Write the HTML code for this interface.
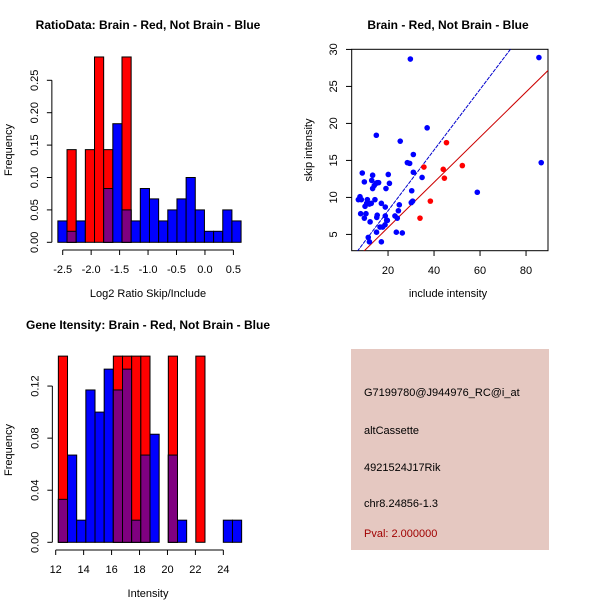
<!DOCTYPE html>
<html><head><meta charset="utf-8"><style>
body{margin:0;background:#fff}
svg{display:block;font-family:"Liberation Sans",sans-serif}
</style></head><body>
<svg id="s" width="600" height="600" viewBox="0 0 600 600">
<rect width="600" height="600" fill="#fff"/>
<text x="148" y="29" font-size="12" font-weight="bold" text-anchor="middle">RatioData: Brain - Red, Not Brain - Blue</text>
<text x="448" y="29" font-size="12" font-weight="bold" text-anchor="middle">Brain - Red, Not Brain - Blue</text>
<text x="148" y="329" font-size="12" font-weight="bold" text-anchor="middle">Gene Itensity: Brain - Red, Not Brain - Blue</text>
<text x="148" y="297" font-size="11" text-anchor="middle">Log2 Ratio Skip/Include</text>
<text x="148" y="597" font-size="11" text-anchor="middle">Intensity</text>
<text x="448" y="297" font-size="11" text-anchor="middle">include intensity</text>
<text transform="translate(12,150) rotate(-90)" font-size="11" text-anchor="middle">Frequency</text>
<text transform="translate(12,450) rotate(-90)" font-size="11" text-anchor="middle">Frequency</text>
<text transform="translate(312,150) rotate(-90)" font-size="11" text-anchor="middle">skip intensity</text>
<g>
<rect x="351" y="349" width="198" height="201" fill="#e5c8c1"/>
<text x="364" y="396" font-size="11">G7199780@J944976_RC@i_at</text>
<text x="364" y="434" font-size="11">altCassette</text>
<text x="364" y="471" font-size="11">4921524J17Rik</text>
<text x="364" y="507" font-size="11">chr8.24856-1.3</text>
<text x="364" y="537" font-size="11" fill="#a00000">Pval: 2.000000</text>
</g>
</svg>
<script>
// Ratio histogram data
const ratioStart=-2.585, ratioBin=0.161;
const ratioBlue=[0.033,0.017,0.033,0,0,0.083,0.183,0.05,0.033,0.083,0.067,0.033,0.05,0.067,0.1,0.05,0.017,0.017,0.05,0.033];
const ratioRed=[0,0.143,0,0.143,0.286,0.143,0,0.286,0,0,0,0,0,0,0,0,0,0,0,0];
const ratioXTicks=[-2.5,-2.0,-1.5,-1.0,-0.5,0.0,0.5];
const ratioYTicks=[0,0.05,0.10,0.15,0.20,0.25];
// Intensity histogram data
const intStart=12.19, intBin=0.656;
const intBlue=[0.033,0.067,0.017,0.117,0.1,0.133,0.117,0.133,0.017,0.067,0.083,0,0.067,0.017,0,0,0,0,0.017,0.017];
const intRed=[0.143,0,0,0,0,0,0.143,0.143,0.143,0.143,0,0,0.143,0,0,0.143,0,0,0,0];
const intXTicks=[12,14,16,18,20,22,24];
const intYTicks=[0,0.04,0.08,0.12];
// Scatter data
const blueX=[7.1,7.8,8.4,8.1,8.8,9.7,10,9.7,10.4,10.7,11,11.4,11.9,11.4,11.9,12.7,12.2,12.9,13.3,13.3,14,14.3,14.8,15.3,15.3,15.1,15,14.9,15.9,16.5,17.1,17.1,17.7,18.7,18.8,18.8,19.1,19.4,19.7,20.1,20.6,23,23.6,24,24.5,24.9,25.3,26.2,28.4,29.4,29.7,30.1,30.3,30.7,31,31,34.8,37,58.8,85.6,86.6];
const blueY=[9.7,10.1,9.7,7.8,13.3,12.1,8.8,7.2,7.8,9.2,9.7,9.2,9.1,4.6,4.0,9.2,6.7,12.3,13,11.2,11.6,9.7,11.9,12,7.6,7.3,5.3,18.4,12,6.0,9.2,4.0,6.0,6.3,7.5,8.7,11.2,6.9,6.9,13.1,11.9,7.5,5.3,7.2,8.2,9,17.6,5.2,14.7,14.6,28.7,9.3,10.9,9.5,13.4,15.8,12.7,19.4,10.7,28.9,14.7];
const redX=[33.9,35.6,38.4,44,44.5,45.4,52.3];
const redY=[7.2,14.1,9.5,13.8,12.6,17.4,14.3];
const blueLine=[0,0.41], redLine=[-0.16,0.305];
const scXTicks=[20,40,60,80], scYTicks=[5,10,15,20,25,30];

const S=document.getElementById('s'),NS='http://www.w3.org/2000/svg';
function mk(t,a,p){const e=document.createElementNS(NS,t);for(const k in a)e.setAttribute(k,a[k]);(p||S).appendChild(e);return e;}

function hist(blue,red,start,bin,sx,sy,xT,yT,yLab,name,by){
  const g=mk('g',{});
  
  
  for(let i=0;i<blue.length;i++){
    const x0=sx(start+i*bin),x1=sx(start+(i+1)*bin);
    const layers=[];
    if(blue[i]>0)layers.push([blue[i],'#0000ff','blue']);
    if(red[i]>0)layers.push([red[i],'#ff0000','red']);
    if(blue[i]>0&&red[i]>0)layers.push([Math.min(blue[i],red[i]),'#7f0080','overlap']);
    for(const L of layers){
      const r=mk('rect',{x:x0,y:sy(L[0]),width:x1-x0,height:sy(0)-sy(L[0]),fill:L[1],stroke:'#000','stroke-width':1},g);
      
      
    }
  }
  const ax=mk('g',{stroke:'#000','stroke-width':1,fill:'none'},g);
  
  
  mk('line',{x1:sx(xT[0]),x2:sx(xT[xT.length-1]),y1:by,y2:by},ax);
  xT.forEach(v=>{mk('line',{x1:sx(v),x2:sx(v),y1:by,y2:by+5},ax);
    const t=mk('text',{x:sx(v),y:by+23,'font-size':11,'text-anchor':'middle',stroke:'none',fill:'#000'},g);t.textContent=yLab?v.toFixed(1):v;
    });
  const ax0=sx(start)-6;
  mk('line',{x1:ax0,x2:ax0,y1:sy(yT[0]),y2:sy(yT[yT.length-1])},ax);
  yT.forEach(v=>{mk('line',{x1:ax0,x2:ax0-5,y1:sy(v),y2:sy(v)},ax);
    const t=mk('text',{transform:`translate(${ax0-14},${sy(v)}) rotate(-90)`,'font-size':11,'text-anchor':'middle',stroke:'none',fill:'#000'},g);t.textContent=v.toFixed(2);
    });
}
hist(ratioBlue,ratioRed,ratioStart,ratioBin,v=>62.7+(v+2.5)*56.9,v=>242.3-v*648,ratioXTicks,ratioYTicks,true,'ratio-histogram',250);
hist(intBlue,intRed,intStart,intBin,v=>55.7+(v-12)*13.97,v=>542.3-v*1302,intXTicks,intYTicks,false,'intensity-histogram',550);

// scatter
const X=v=>351.7+(v-4.2)*2.3, Y=v=>250.7-(v-2.8)*7.4;
const sg=mk('g',{});


mk('defs',{}).innerHTML='<clipPath id="cp"><rect x="351.7" y="49.3" width="196.3" height="201.4"/></clipPath>';
mk('rect',{x:351.7,y:49.3,width:196.3,height:201.4,fill:'none',stroke:'#000'},sg);
scXTicks.forEach(v=>{mk('line',{x1:X(v),x2:X(v),y1:250.7,y2:256,stroke:'#000'},sg);});
scYTicks.forEach(v=>{mk('line',{x1:351.7,x2:346,y1:Y(v),y2:Y(v),stroke:'#000'},sg);
  const t=mk('text',{transform:`translate(337,${Y(v)}) rotate(-90)`,'font-size':11,'text-anchor':'middle'},sg);t.textContent=v;
  });
scXTicks.forEach(v=>{const t=mk('text',{x:X(v),y:274,'font-size':11,'text-anchor':'middle'},sg);t.textContent=v;
  });
const lg=mk('g',{'clip-path':'url(#cp)'},sg);
[[blueLine,'#0000cc','4,1'],[redLine,'#cc0000','']].forEach(([l,c,d],i)=>{
  const ln=mk('line',{x1:X(0),y1:Y(l[0]),x2:X(100),y2:Y(l[0]+l[1]*100),stroke:c,'stroke-width':1,'stroke-dasharray':d},lg);
  
  
});
blueX.forEach((v,i)=>{const c=mk('circle',{cx:X(v),cy:Y(blueY[i]),r:2.8,fill:'#0000ff'},sg);
  });
redX.forEach((v,i)=>{const c=mk('circle',{cx:X(v),cy:Y(redY[i]),r:2.8,fill:'#ff0000'},sg);
  });
</script>
</body></html>
